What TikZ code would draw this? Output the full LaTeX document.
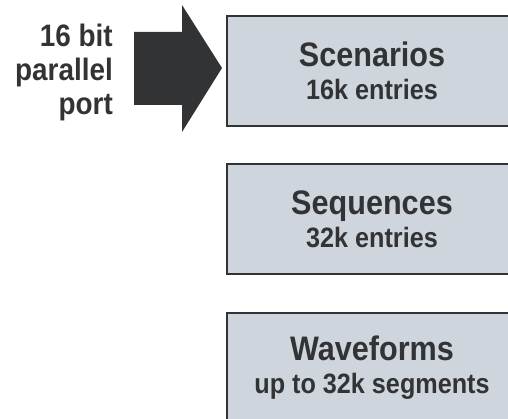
\documentclass[tikz,border=0pt]{standalone}
\usepackage{fontspec}
\setmainfont[FakeStretch=0.9]{Liberation Sans}
\usetikzlibrary{positioning}

\definecolor{boxfill}{RGB}{207,213,221}
\definecolor{ink}{RGB}{50,51,53}

\tikzset{
  memory/.style={draw=ink, line width=2pt, fill=boxfill, text=ink,
    minimum width=290pt, minimum height=110pt, inner sep=0pt,
    anchor=north west, align=center,
    font=\bfseries\fontsize{28}{33}\selectfont},
  portlabel/.style={text=ink, align=right, inner sep=0pt,
    font=\bfseries\fontsize{31}{34}\selectfont},
}
\newcommand{\memtext}[2]{{\fontsize{34}{33}\selectfont #1}\\#2}

\begin{document}
\begin{tikzpicture}[x=1pt, y=-1pt]
    \useasboundingbox (0,0) rectangle (508,419);
    \clip (0,0) rectangle (508,419);

    % memory blocks
    \node[memory] (scen) at (226,15) {\memtext{Scenarios}{16k entries}};
    \node[memory] (seq)  at (226,163) {\memtext{Sequences}{32k entries}};
    \node[memory] (wave) at (226,312) {\memtext{Waveforms}{up to 32k segments}};

    % input port
    \node[portlabel, anchor=east] (port) at (113,72) {16 bit\\parallel\\port};
    \coordinate (tip) at (222,68);
    \fill[ink] (134,32) -- (182,32) -- (182,5) -- (tip) -- (182,132) -- (182,105) -- (134,105) -- cycle;
\end{tikzpicture}
\end{document}
